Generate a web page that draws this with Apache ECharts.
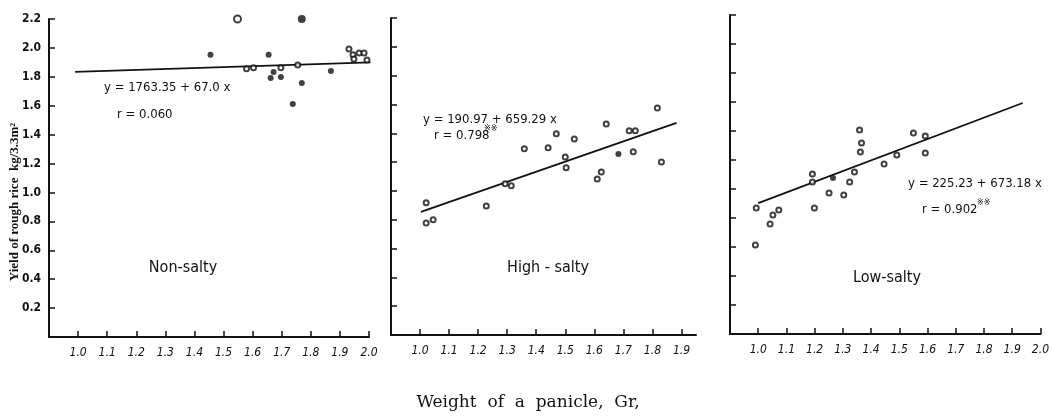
<!DOCTYPE html>
<html>
<head>
<meta charset="utf-8">
<script src="https://cdn.jsdelivr.net/npm/echarts@6/dist/echarts.min.js"></script>
<style>
html,body{margin:0;padding:0;background:#fff;}
#chart{width:1052px;height:416px;}
</style>
</head>
<body>
<div id="chart"></div>
<script>
// ---- tick labels ----
const xTickValues = [1.0, 1.1, 1.2, 1.3, 1.4, 1.5, 1.6, 1.7, 1.8, 1.9, 2.0];
const xTickValues2 = [1.0, 1.1, 1.2, 1.3, 1.4, 1.5, 1.6, 1.7, 1.8, 1.9];
const yTickValues = [0.2, 0.4, 0.6, 0.8, 1.0, 1.2, 1.4, 1.6, 1.8, 2.0, 2.2];

// ---- Non-salty ----
const nonOpen = [[1.548, 2.20], [1.579, 1.855], [1.603, 1.862], [1.697, 1.862], [1.755, 1.882],
  [1.931, 1.993], [1.945, 1.952], [1.948, 1.924], [1.966, 1.965], [1.983, 1.965], [1.993, 1.917]];
const nonFilled = [[1.769, 2.20], [1.455, 1.952], [1.655, 1.952], [1.672, 1.834], [1.662, 1.792],
  [1.697, 1.799], [1.769, 1.758], [1.738, 1.612], [1.869, 1.841]];
const nonLine = [[0.99, 1.834], [2.005, 1.90]];

// ---- High-salty ----
const highOpen = [[1.359, 1.292], [1.441, 1.299], [1.293, 1.049], [1.314, 1.035], [1.021, 0.917],
  [1.228, 0.896], [1.021, 0.778], [1.045, 0.799], [1.469, 1.396], [1.531, 1.361], [1.500, 1.236],
  [1.503, 1.160], [1.641, 1.465], [1.720, 1.417], [1.741, 1.417], [1.734, 1.271], [1.624, 1.132],
  [1.610, 1.083], [1.817, 1.576], [1.831, 1.201]];
const highFilled = [[1.683, 1.257]];
const highLine = [[1.003, 0.854], [1.883, 1.472]];

// ---- Low-salty ----
const lowOpen = [[1.359, 1.407], [1.366, 1.317], [1.362, 1.255], [1.446, 1.172], [1.491, 1.234],
  [1.341, 1.117], [1.324, 1.048], [1.192, 1.103], [1.192, 1.048], [1.251, 0.972], [1.303, 0.959],
  [1.199, 0.869], [0.993, 0.869], [1.052, 0.821], [1.073, 0.855], [1.042, 0.759], [0.990, 0.614],
  [1.550, 1.386], [1.592, 1.366], [1.592, 1.248]];
const lowFilled = [[1.265, 1.076]];
const lowLine = [[1.0, 0.903], [1.937, 1.593]];

const narrow = '"Liberation Sans Narrow", "DejaVu Sans Condensed", "Liberation Sans", sans-serif';
const ink = '#111';

const grids = [
  {left: 49, top: 19, width: 320, height: 318},
  {left: 391, top: 18, width: 305, height: 317},
  {left: 730, top: 15, width: 316, height: 319}
];
const xMax = [2.0, 1.95, 2.0];

function xAxisFor(i) {
  return {
    type: 'value', gridIndex: i, min: 0.9, max: xMax[i],
    axisLine: {show: true, onZero: false, lineStyle: {color: ink, width: 2}},
    axisTick: {show: true, inside: true, length: 6, lineStyle: {color: ink, width: 1.5},
      customValues: i === 1 ? xTickValues2 : xTickValues},
    axisLabel: {show: true, color: ink, fontFamily: narrow, fontSize: 12, fontStyle: 'italic', margin: 10,
      customValues: i === 1 ? xTickValues2 : xTickValues,
      formatter: v => v.toFixed(1)},
    splitLine: {show: false}
  };
}
function yAxisFor(i) {
  return {
    type: 'value', gridIndex: i, min: 0, max: 2.2,
    axisLine: {show: true, onZero: false, lineStyle: {color: ink, width: 2}},
    axisTick: {show: true, inside: true, length: 6, lineStyle: {color: ink, width: 1.5},
      customValues: yTickValues},
    axisLabel: {show: i === 0, color: ink, fontFamily: narrow, fontSize: 12, fontWeight: 'bold', margin: 8,
      customValues: yTickValues, formatter: v => v.toFixed(1)},
    splitLine: {show: false}
  };
}

function openSeries(i, data, size) {
  return {type: 'scatter', xAxisIndex: i, yAxisIndex: i, data: data, symbol: 'emptyCircle',
    symbolSize: size || 5, itemStyle: {color: ink, borderWidth: 1.6}, z: 3};
}
function filledSeries(i, data, size) {
  return {type: 'scatter', xAxisIndex: i, yAxisIndex: i, data: data, symbol: 'circle',
    symbolSize: size || 6, itemStyle: {color: ink}, z: 3};
}
function lineSeries(i, data) {
  return {type: 'line', xAxisIndex: i, yAxisIndex: i, data: data, symbol: 'none',
    lineStyle: {color: ink, width: 1.8}, z: 2};
}

const eqFont = '13px ' + narrow;
function txt(x, y, text, font, extra) {
  return {type: 'text', x: x, y: y,
    style: Object.assign({text: text, font: font, fill: ink, textVerticalAlign: 'middle'}, extra || {})};
}

const yTitle = txt(15, 202, 'Yield of rough rice  kg/3.3m²', 'bold 13px "Liberation Serif", serif',
  {textAlign: 'center'});
yTitle.rotation = Math.PI / 2;

const option = {
  backgroundColor: '#fff',
  animation: false,
  grid: grids,
  xAxis: [xAxisFor(0), xAxisFor(1), xAxisFor(2)],
  yAxis: [yAxisFor(0), yAxisFor(1), yAxisFor(2)],
  series: [
    lineSeries(0, nonLine),
    openSeries(0, nonOpen.slice(0, 1), 7),
    openSeries(0, nonOpen.slice(1)),
    filledSeries(0, nonFilled.slice(0, 1), 8),
    filledSeries(0, nonFilled.slice(1)),
    lineSeries(1, highLine),
    openSeries(1, highOpen),
    filledSeries(1, highFilled),
    lineSeries(2, lowLine),
    openSeries(2, lowOpen),
    filledSeries(2, lowFilled)
  ],
  graphic: [
    yTitle,
    txt(104, 88, 'y = 1763.35 + 67.0 x', eqFont),
    txt(117, 115, 'r = 0.060', eqFont),
    txt(423, 120, 'y = 190.97 + 659.29 x', eqFont),
    txt(434, 136, 'r = 0.798', eqFont),
    txt(484, 129, '※※', '8px "DejaVu Sans", sans-serif'),
    txt(908, 184, 'y = 225.23 + 673.18 x', eqFont),
    txt(922, 210, 'r = 0.902', eqFont),
    txt(977, 203, '※※', '8px "DejaVu Sans", sans-serif'),
    txt(183, 268, 'Non-salty', '16px ' + narrow, {textAlign: 'center'}),
    txt(548, 268, 'High - salty', '16px ' + narrow, {textAlign: 'center'}),
    txt(887, 278, 'Low-salty', '16px ' + narrow, {textAlign: 'center'}),
    txt(528, 403, 'Weight  of  a  panicle,  Gr,', '17px "DejaVu Serif", serif', {textAlign: 'center'})
  ]
};

const chart = echarts.init(document.getElementById('chart'), null, {renderer: 'canvas'});
chart.setOption(option);
</script>
</body>
</html>
